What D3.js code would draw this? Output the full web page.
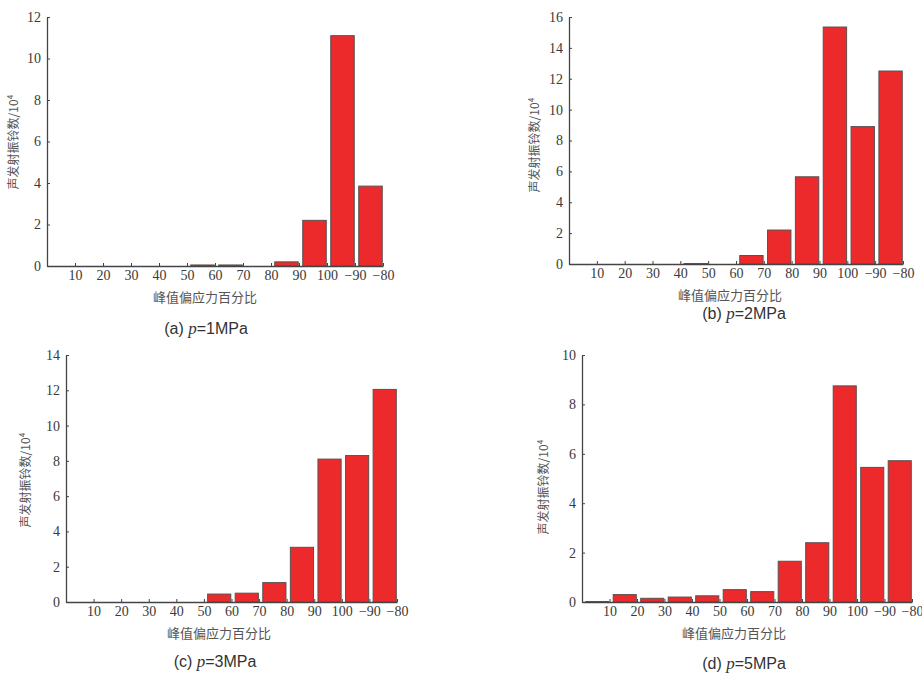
<!DOCTYPE html>
<html>
<head>
<meta charset="utf-8">
<script src="https://cdn.jsdelivr.net/npm/d3@7"></script>
<style>
  body { margin: 0; background: #fff; }
  svg { display: block; }
</style>
</head>
<body>
<div id="chart"></div>
<script>
// bin edges along the x axis (peak deviatoric stress %)
const binLabels = ["10", "20", "30", "40", "50", "60", "70", "80", "90", "100", "\u221290", "\u221280"];

// ringing counts /10^4 per bin
const valuesA = [0, 0, 0, 0, 0, 0.05, 0.05, 0, 0.2, 2.2, 11.1, 3.85];
const valuesB = [0, 0, 0, 0, 0.03, 0, 0.55, 2.2, 5.65, 15.35, 8.9, 12.5];
const valuesC = [0, 0, 0, 0, 0, 0.45, 0.5, 1.1, 3.1, 8.1, 8.3, 12.05];
const valuesD = [0.02, 0.3, 0.15, 0.2, 0.25, 0.5, 0.42, 1.65, 2.4, 8.75, 5.45, 5.72];

const yMaxes = [12, 16, 14, 10];
const captionTags = ["(a)", "(b)", "(c)", "(d)"];
const pressures = ["1MPa", "2MPa", "3MPa", "5MPa"];

const yTitle = "声发射振铃数/10\u2074";
const xTitle = "峰值偏应力百分比";

// layout of each panel in page pixels
const panels = [
  { values: valuesA, left: 47, right: 383, top: 17, bottom: 266, yLab: [15, 142], xLab: [205, 302], cap: [206, 334] },
  { values: valuesB, left: 569, right: 903, top: 17, bottom: 264, yLab: [536, 145], xLab: [730, 300], cap: [744, 319] },
  { values: valuesC, left: 66, right: 397, top: 355, bottom: 602, yLab: [27, 480], xLab: [219, 638], cap: [215, 667] },
  { values: valuesD, left: 582, right: 912, top: 355, bottom: 602, yLab: [545, 487], xLab: [734, 638], cap: [744, 669] }
];

const width = 922, height = 674;
const tickFont = "'Liberation Serif', 'DejaVu Serif', serif";

const svg = d3.select("#chart").append("svg")
  .attr("width", width)
  .attr("height", height);

function styleAxis(sel) {
  sel.attr("font-family", tickFont).attr("font-size", 14);
  sel.selectAll(".tick text").attr("fill", "#3a3a3a");
  sel.selectAll(".tick line").attr("stroke", "#444");
  sel.select(".domain").attr("stroke", "#444").attr("stroke-width", 1.3);
}

panels.forEach((p, k) => {
  const n = p.values.length;
  const g = svg.append("g");

  const x = d3.scaleLinear().domain([0, n]).range([p.left, p.right]);
  const xb = d3.scaleBand().domain(d3.range(n)).range([p.left, p.right])
    .paddingInner(0.16).paddingOuter(0.08);
  const y = d3.scaleLinear().domain([0, yMaxes[k]]).range([p.bottom, p.top]);

  g.selectAll(".bar")
    .data(p.values)
    .enter()
    .append("rect")
    .attr("class", "bar")
    .attr("x", (d, i) => xb(i) + 1.5)
    .attr("width", xb.bandwidth())
    .attr("y", d => y(d))
    .attr("height", d => y(0) - y(d))
    .attr("fill", "#ec2a2b")
    .attr("stroke", "#5a5050")
    .attr("stroke-width", 1);

  g.append("g")
    .attr("transform", `translate(0,${p.bottom})`)
    .call(d3.axisBottom(x)
      .tickValues(d3.range(1, n + 1))
      .tickFormat(d => binLabels[d - 1])
      .tickSizeInner(-3)
      .tickSizeOuter(0)
      .tickPadding(4))
    .call(styleAxis);

  g.append("g")
    .attr("transform", `translate(${p.left},0)`)
    .call(d3.axisLeft(y)
      .ticks(yMaxes[k] / 2)
      .tickSizeInner(-3)
      .tickSizeOuter(0)
      .tickPadding(6))
    .call(styleAxis);

  g.append("text")
    .attr("transform", `translate(${p.yLab[0]},${p.yLab[1]}) rotate(-90)`)
    .attr("text-anchor", "middle")
    .attr("dominant-baseline", "middle")
    .attr("font-family", "'Noto Sans CJK SC', sans-serif")
    .attr("font-size", 12)
    .attr("fill", "#555")
    .text(yTitle);

  g.append("text")
    .attr("x", p.xLab[0])
    .attr("y", p.xLab[1])
    .attr("text-anchor", "middle")
    .attr("font-family", "'Noto Sans CJK SC', sans-serif")
    .attr("font-size", 13)
    .attr("fill", "#555")
    .text(xTitle);

  const cap = g.append("text")
    .attr("x", p.cap[0])
    .attr("y", p.cap[1])
    .attr("text-anchor", "middle")
    .attr("font-family", "'Liberation Sans', Arial, sans-serif")
    .attr("font-size", 16)
    .attr("fill", "#333");
  cap.append("tspan").text(captionTags[k] + " ");
  cap.append("tspan")
    .attr("font-family", "'Liberation Serif', serif")
    .attr("font-style", "italic")
    .attr("font-size", 17)
    .text("p");
  cap.append("tspan").text("=" + pressures[k]);
});
</script>
</body>
</html>
